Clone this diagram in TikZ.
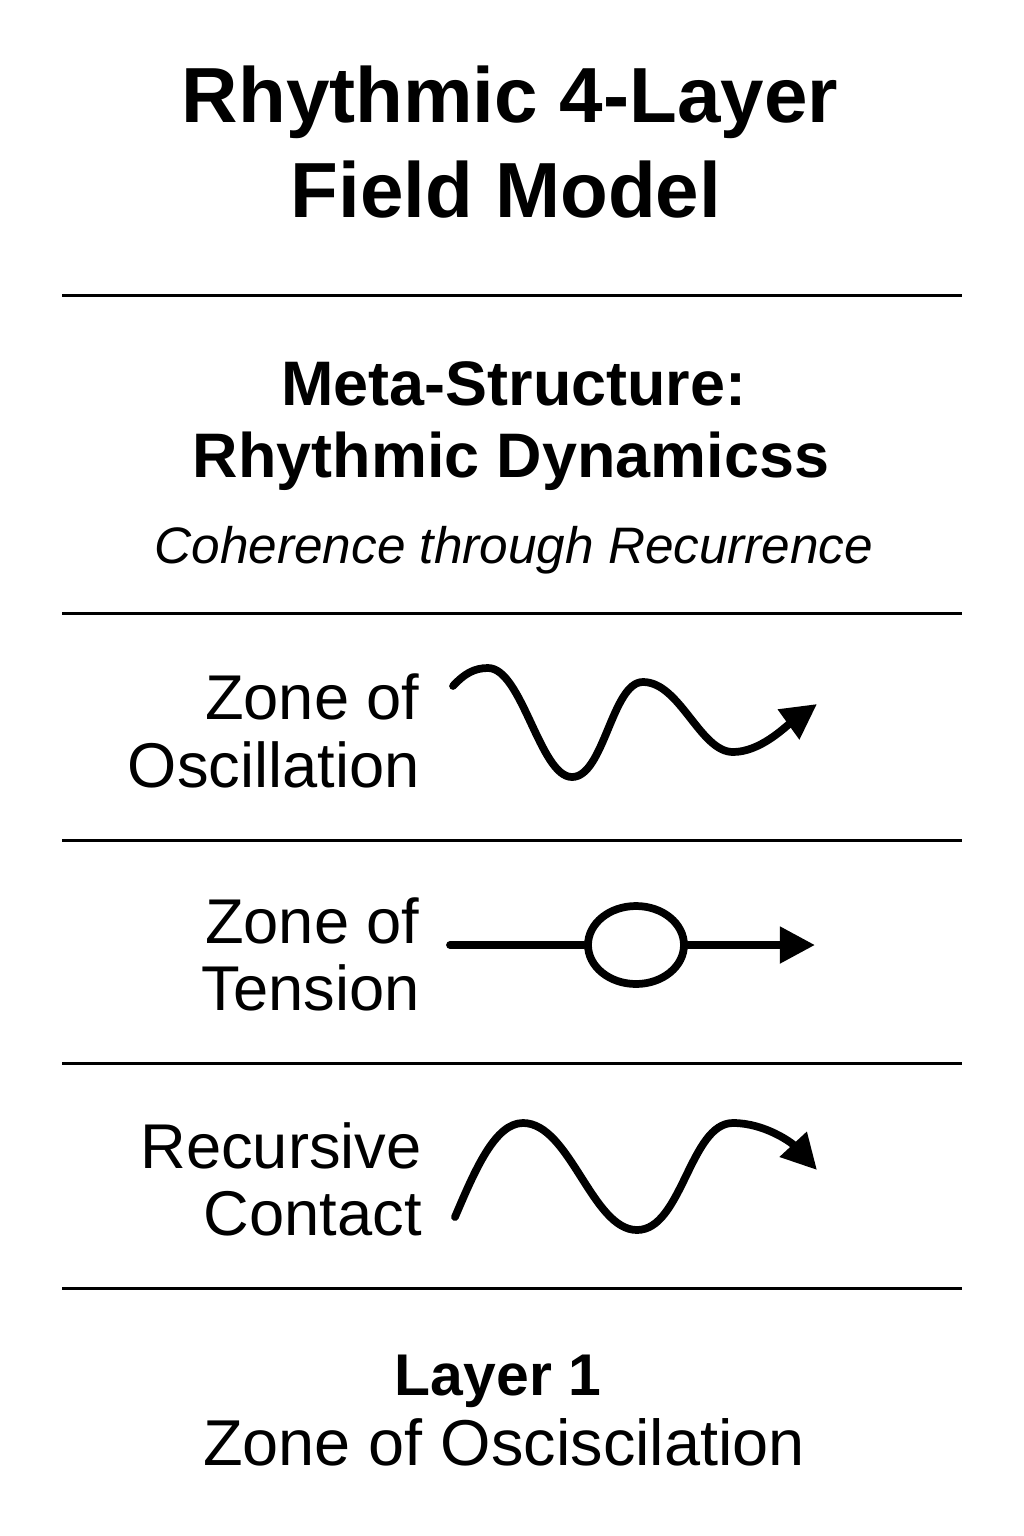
\documentclass[tikz,border=0pt]{standalone}
\usepackage{fontspec}
\setmainfont{Liberation Sans}
\usetikzlibrary{arrows.meta,shapes.geometric}
\begin{document}
\begin{tikzpicture}[x=0.02cm,y=-0.02cm,
  rule/.style={line width=1.7pt},
  wave/.style={line width=4.4pt,line cap=round,line join=round},
  tipped/.style={wave,-{Triangle[length=20pt,width=20pt]}},
  txt/.style={inner sep=0pt,anchor=base},
  lbl/.style={inner sep=0pt,anchor=base east,font=\fontsize{36}{42}\selectfont}]
\useasboundingbox[fill=white] (0,0) rectangle (1024,1536);
% title
\node[txt,font=\bfseries\fontsize{44.5}{52}\selectfont] (t1) at (510,122) {Rhythmic 4-Layer};
\node[txt,font=\bfseries\fontsize{44.5}{52}\selectfont] (t2) at (506,217) {Field Model};
% rules
\foreach \y/\n in {295/r1,613/r2,840/r3,1063/r4,1288/r5}{
  \coordinate (\n a) at (62,\y); \coordinate (\n b) at (962,\y);
  \draw[rule] (\n a) -- (\n b);}
% meta
\node[txt,font=\bfseries\fontsize{35.8}{42}\selectfont] (m1) at (514,405) {Meta-Structure:};
\node[txt,font=\bfseries\fontsize{35.8}{42}\selectfont] (m2) at (511,477) {Rhythmic Dynamicss};
\node[txt,font=\itshape\fontsize{29.2}{35}\selectfont] (m3) at (514,563) {Coherence through Recurrence};
% oscillation
\node[lbl] (o1) at (420,719) {Zone of};
\node[lbl] (o2) at (420,787) {Oscillation};
\coordinate (os) at (453,686);
\coordinate (oe) at (817,704);
\draw[tipped] (os) .. controls (464,674) and (474,668) .. (488,668)
  .. controls (522,668) and (540,777) .. (572,777)
  .. controls (604,777) and (612,682) .. (643,682)
  .. controls (680,682) and (700,752) .. (733,752)
  .. controls (760,752) and (785,727) .. (oe);
% tension
\node[lbl] (n1) at (420,943) {Zone of};
\node[lbl] (n2) at (420,1010) {Tension};
\coordinate (ns) at (450,945);
\coordinate (ne) at (815,945);
\node[draw,ellipse,line width=4.4pt,minimum width=1.92cm,minimum height=1.56cm,inner sep=0pt] (el) at (636,945) {};
\draw[wave] (ns) -- (el.west);
\draw[tipped] (el.east) -- (ne);
% recursive
\node[lbl] (c1) at (422,1168) {Recursive};
\node[lbl] (c2) at (422,1235) {Contact};
\coordinate (cs) at (455,1217);
\coordinate (ce) at (817,1170);
\draw[tipped] (cs) .. controls (475,1170) and (495,1123) .. (523,1123)
  .. controls (570,1123) and (592,1230) .. (637,1230)
  .. controls (682,1230) and (690,1123) .. (733,1123)
  .. controls (765,1123) and (792,1143) .. (ce);
% layer 1
\node[txt,font=\bfseries\fontsize{33.5}{40}\selectfont] (l1) at (498,1395) {Layer 1};
\node[txt,font=\fontsize{36.9}{43}\selectfont] (l2) at (504,1465) {Zone of Osciscilation};
\end{tikzpicture}
\end{document}
